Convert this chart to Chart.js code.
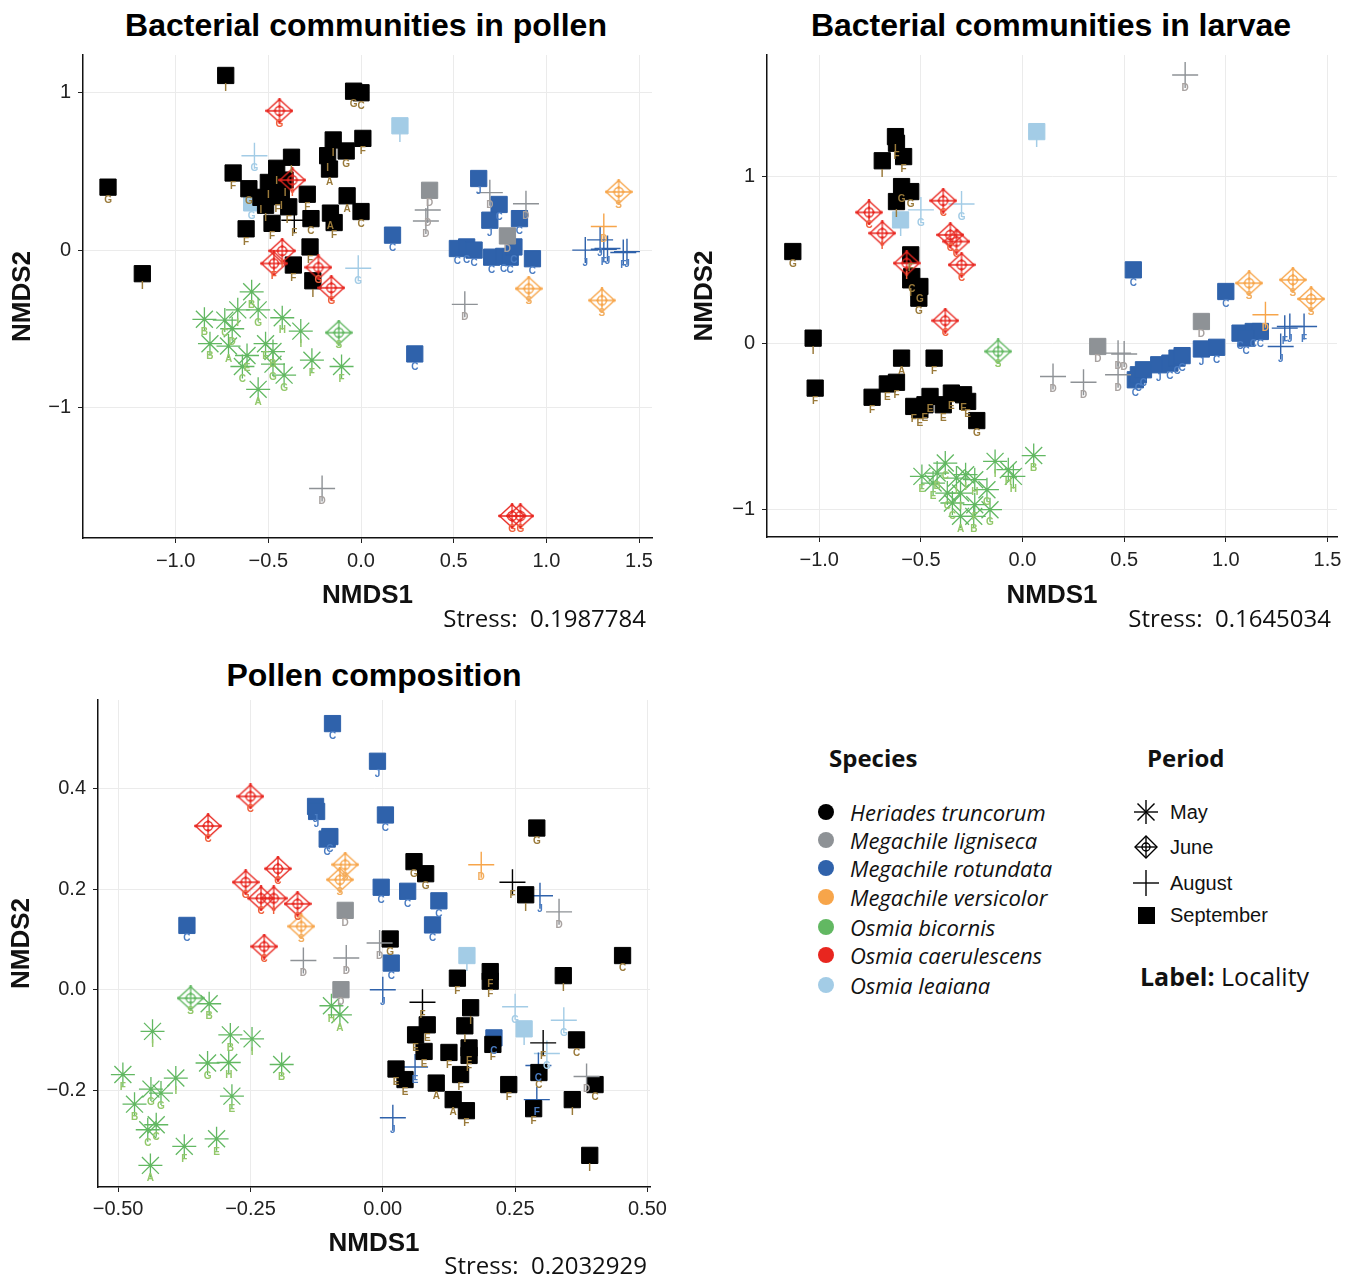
<!DOCTYPE html>
<html>
<head>
<meta charset="utf-8">
<script src="https://cdn.jsdelivr.net/npm/chart.js@4.4.1/dist/chart.umd.min.js"></script>
<style>
  body { margin: 0; background: #fff; }
  #page { position: relative; width: 1353px; height: 1276px; overflow: hidden; background: #fff; }
  canvas { position: absolute; }
  .ttl { position: absolute; width: 700px; text-align: center; font: bold 32px "Liberation Sans", Arial, sans-serif; line-height: 36px; color: #000; }
  .stress { position: absolute; width: 300px; text-align: right; font: 24px "Open Sans", sans-serif; line-height: 30px; color: #111; white-space: pre; }
  .hdr { position: absolute; font: bold 24px "Open Sans", sans-serif; line-height: 30px; color: #111; }
  .sp { position: absolute; left: 850px; font: italic 22px "Open Sans", sans-serif; line-height: 28px; color: #111; white-space: nowrap; }
  .pr { position: absolute; left: 1170px; font: 20px "Liberation Sans", Arial, sans-serif; line-height: 26px; color: #111; }
  .sym { position: absolute; }
</style>
</head>
<body>
<div id="page">
  <div class="ttl" style="left:16px; top:7px;">Bacterial communities in pollen</div>
  <div class="ttl" style="left:701px; top:7px;">Bacterial communities in larvae</div>
  <div class="ttl" style="left:24px; top:657px;">Pollen composition</div>

  <canvas id="c1" width="672" height="640" style="left:0; top:0;"></canvas>
  <canvas id="c2" width="673" height="640" style="left:680px; top:0;"></canvas>
  <canvas id="c3" width="672" height="626" style="left:0; top:650px;"></canvas>

  <div class="stress" style="left:346px; top:603px;">Stress:  0.1987784</div>
  <div class="stress" style="left:1031px; top:603px;">Stress:  0.1645034</div>
  <div class="stress" style="left:347px; top:1250px;">Stress:  0.2032929</div>

  <div id="legend"></div>
</div>

<script>
// ---- axis ticks ----
const bigTicks = [-1, -0.5, 0, 0.5, 1, 1.5];
const bigTickLabels = ['\u22121.0', '\u22120.5', '0.0', '0.5', '1.0', '1.5'];
const unitTicks = [-1, 0, 1];
const unitTickLabels = ['\u22121', '0', '1'];
const compXTicks = [-0.5, -0.25, 0, 0.25, 0.5];
const compXLabels = ['\u22120.50', '\u22120.25', '0.00', '0.25', '0.50'];
const compYTicks = [-0.2, 0, 0.2, 0.4];
const compYLabels = ['\u22120.2', '0.0', '0.2', '0.4'];

// ---- legend ----
const speciesNames = ['Heriades truncorum', 'Megachile ligniseca', 'Megachile rotundata', 'Megachile versicolor', 'Osmia bicornis', 'Osmia caerulescens', 'Osmia leaiana'];
const speciesColors = ['#000000', '#8e9296', '#2f62ab', '#f7a54a', '#62b862', '#e8261f', '#a3cce6'];
const labelColors = ['#9a7a3a', '#a8a2a0', '#4a7cc2', '#f2ae60', '#93c86a', '#f0603c', '#a3cce6'];
const periodNames = ['May', 'June', 'August', 'September'];

// ---- data: [NMDS1, NMDS2, locality] ----
// Bacterial communities in pollen
const p1HerSep = [[-0.73, 1.11, 'I'], [-0.04, 1.01, 'G'], [0.00, 1.00, 'C'], [-1.365, 0.40, 'G'], [-1.18, -0.15, 'I'],
  [-0.15, 0.70, 'I'], [0.01, 0.71, 'F'], [-0.18, 0.60, 'I'], [-0.08, 0.63, 'G'], [-0.375, 0.59, 'I'], [-0.17, 0.515, 'A'],
  [-0.455, 0.52, 'I'], [-0.69, 0.49, 'F'], [-0.605, 0.39, 'G'], [-0.50, 0.43, 'I'], [-0.43, 0.36, 'I'], [-0.29, 0.355, 'F'],
  [-0.075, 0.345, 'A'], [0.00, 0.245, 'C'], [-0.39, 0.275, 'F'], [-0.515, 0.285, 'I'], [-0.48, 0.17, 'F'], [-0.62, 0.135, 'F'],
  [-0.27, 0.20, 'C'], [-0.165, 0.235, 'A'], [-0.145, 0.175, 'F'], [-0.275, 0.02, 'F'], [-0.365, -0.095, 'F'], [-0.26, -0.195, 'I'],
  [-0.54, 0.335, 'I'], [-0.45, 0.34, 'F'], [-0.41, 0.445, 'I']];
const p1HerAug = [[-0.36, 0.19, 'F']];
const p1LigSep = [[0.37, 0.38, 'D'], [0.79, 0.09, 'D']];
const p1LigAug = [[0.36, 0.255, 'D'], [0.35, 0.185, 'D'], [0.695, 0.365, 'D'], [0.89, 0.295, 'D'], [0.56, -0.345, 'D'], [-0.21, -1.515, 'D']];
const p1RotSep = [[0.17, 0.095, 'C'], [0.635, 0.455, 'J'], [0.745, 0.29, 'C'], [0.695, 0.19, 'J'], [0.855, 0.20, 'C'], [0.52, 0.01, 'C'],
  [0.57, 0.02, 'C'], [0.61, 0.0, 'C'], [0.705, -0.045, 'C'], [0.77, -0.04, 'C'], [0.805, -0.045, 'C'], [0.825, 0.02, 'C'],
  [0.925, -0.055, 'C'], [0.29, -0.66, 'C']];
const p1RotAug = [[1.21, 0.0, 'J'], [1.29, 0.065, 'J'], [1.31, 0.005, 'F'], [1.33, 0.01, 'J'], [1.415, -0.015, 'F'], [1.435, -0.01, 'J']];
const p1VerJun = [[1.39, 0.37, 'S'], [0.905, -0.245, 'S'], [1.30, -0.32, 'S']];
const p1VerAug = [[1.31, 0.15, 'D']];
const p1BicMay = [[-0.59, -0.265, 'B'], [-0.845, -0.44, 'B'], [-0.735, -0.445, 'C'], [-0.665, -0.38, 'I'], [-0.555, -0.38, 'G'],
  [-0.695, -0.50, 'D'], [-0.425, -0.43, 'H'], [-0.325, -0.515, 'I'], [-0.815, -0.595, 'B'], [-0.715, -0.61, 'A'], [-0.615, -0.67, 'E'],
  [-0.515, -0.595, 'E'], [-0.475, -0.645, 'B'], [-0.64, -0.74, 'C'], [-0.475, -0.725, 'G'], [-0.415, -0.795, 'G'], [-0.265, -0.70, 'F'],
  [-0.105, -0.74, 'F'], [-0.555, -0.885, 'A']];
const p1BicJun = [[-0.12, -0.525, 'S']];
const p1CaeJun = [[-0.44, 0.885, 'G'], [-0.37, 0.445, 'I'], [-0.425, -0.005, 'I'], [-0.47, -0.085, 'F'], [-0.23, -0.11, 'G'],
  [-0.16, -0.24, 'G'], [0.815, -1.69, 'G'], [0.86, -1.69, 'G']];
const p1LeaSep = [[0.21, 0.79, 'I'], [-0.59, 0.30, 'G']];
const p1LeaAug = [[-0.575, 0.60, 'G'], [-0.015, -0.115, 'G']];

// Bacterial communities in larvae
const p2HerSep = [[-0.625, 1.24, 'I'], [-0.62, 1.20, 'F'], [-0.585, 1.12, 'F'], [-0.69, 1.095, 'I'], [-1.13, 0.55, 'G'],
  [-0.595, 0.94, 'G'], [-0.55, 0.91, 'G'], [-0.62, 0.85, 'I'], [-0.55, 0.53, 'F'], [-0.545, 0.40, 'C'], [-0.505, 0.34, 'G'],
  [-0.51, 0.27, 'G'], [-0.55, 0.38, 'I'], [-1.03, 0.03, 'I'], [-1.02, -0.27, 'F'], [-0.74, -0.325, 'F'], [-0.665, -0.245, 'E'],
  [-0.62, -0.235, 'F'], [-0.595, -0.09, 'A'], [-0.435, -0.09, 'F'], [-0.535, -0.38, 'F'], [-0.48, -0.37, 'E'], [-0.455, -0.32, 'E'],
  [-0.39, -0.37, 'E'], [-0.35, -0.30, 'E'], [-0.29, -0.31, 'E'], [-0.27, -0.35, 'E'], [-0.225, -0.465, 'G'], [-0.505, -0.40, 'E']];
const p2LigSep = [[0.37, -0.02, 'D'], [0.88, 0.13, 'D']];
const p2LigAug = [[0.80, 1.61, 'D'], [0.15, -0.20, 'D'], [0.30, -0.235, 'D'], [0.47, -0.06, 'D'], [0.50, -0.065, 'D'], [0.47, -0.19, 'D']];
const p2RotSep = [[0.545, 0.44, 'C'], [1.00, 0.31, 'C'], [0.555, -0.22, 'C'], [0.57, -0.19, 'C'], [0.595, -0.16, 'C'], [0.67, -0.13, 'J'],
  [0.725, -0.12, 'C'], [0.76, -0.09, 'C'], [0.785, -0.075, 'C'], [0.88, -0.035, 'J'], [0.955, -0.025, 'C'], [1.07, 0.06, 'C'],
  [1.135, 0.07, 'C'], [1.17, 0.07, 'C'], [1.10, 0.03, 'C']];
const p2RotAug = [[1.27, -0.02, 'J'], [1.29, 0.09, 'F'], [1.315, 0.10, 'J'], [1.385, 0.10, 'F']];
const p2VerJun = [[1.115, 0.36, 'S'], [1.33, 0.38, 'S'], [1.42, 0.265, 'S']];
const p2VerAug = [[1.195, 0.17, 'D']];
const p2BicMay = [[-0.495, -0.80, 'E'], [-0.42, -0.78, 'B'], [-0.38, -0.72, 'C'], [-0.325, -0.81, 'I'], [-0.28, -0.79, 'I'],
  [-0.235, -0.82, 'H'], [-0.135, -0.71, 'I'], [-0.07, -0.76, 'H'], [-0.045, -0.80, 'H'], [0.055, -0.675, 'B'], [-0.37, -0.90, 'C'],
  [-0.305, -0.90, 'I'], [-0.175, -0.88, 'G'], [-0.345, -0.96, 'C'], [-0.235, -0.97, 'F'], [-0.16, -1.00, 'G'], [-0.305, -1.04, 'A'],
  [-0.24, -1.04, 'B'], [-0.44, -0.84, 'E']];
const p2BicJun = [[-0.12, -0.05, 'S']];
const p2CaeJun = [[-0.755, 0.785, 'C'], [-0.69, 0.66, 'I'], [-0.39, 0.855, 'C'], [-0.355, 0.65, 'C'], [-0.325, 0.61, 'C'],
  [-0.30, 0.47, 'C'], [-0.57, 0.48, 'I'], [-0.38, 0.135, 'C']];
const p2LeaSep = [[0.07, 1.27, 'I'], [-0.60, 0.74, 'I']];
const p2LeaAug = [[-0.50, 0.80, 'G'], [-0.30, 0.835, 'G']];

// Pollen composition
const p3HerSep = [[0.291, 0.322, 'G'], [0.059, 0.255, 'G'], [0.081, 0.231, 'G'], [0.27, 0.189, 'I'], [0.014, 0.101, 'G'],
  [0.453, 0.068, 'C'], [0.341, 0.028, 'I'], [0.203, 0.036, 'F'], [0.203, 0.017, 'F'], [0.141, 0.023, 'F'], [0.166, -0.036, 'I'],
  [0.084, -0.07, 'E'], [0.062, -0.09, 'E'], [0.155, -0.072, 'I'], [0.078, -0.123, 'E'], [0.125, -0.125, 'F'], [0.163, -0.116, 'F'],
  [0.163, -0.131, 'F'], [0.208, -0.109, 'F'], [0.366, -0.10, 'C'], [0.025, -0.158, 'E'], [0.042, -0.179, 'E'], [0.101, -0.186, 'A'],
  [0.147, -0.169, 'F'], [0.238, -0.189, 'F'], [0.295, -0.165, 'C'], [0.133, -0.219, 'A'], [0.158, -0.241, 'F'], [0.285, -0.237, 'F'],
  [0.358, -0.219, 'I'], [0.401, -0.189, 'C'], [0.391, -0.33, 'I']];
const p3HerAug = [[0.245, 0.214, 'F'], [0.075, -0.025, 'F'], [0.303, -0.106, 'F']];
const p3LigSep = [[-0.071, 0.158, 'D'], [-0.079, 0.0, 'D']];
const p3LigAug = [[-0.15, 0.058, 'D'], [-0.069, 0.063, 'D'], [-0.006, 0.093, 'D'], [0.333, 0.155, 'D'], [0.385, -0.173, 'D']];
const p3RotSep = [[-0.095, 0.53, 'C'], [-0.01, 0.455, 'J'], [-0.127, 0.365, 'J'], [-0.125, 0.355, 'J'], [-0.10, 0.305, 'C'],
  [-0.105, 0.30, 'C'], [0.005, 0.348, 'C'], [-0.003, 0.204, 'C'], [-0.37, 0.128, 'C'], [0.047, 0.196, 'C'], [0.106, 0.177, 'C'],
  [0.094, 0.129, 'C'], [0.016, 0.053, 'C'], [0.21, -0.096, 'C']];
const p3RotAug = [[0.0, 0.0, 'J'], [0.019, -0.255, 'J'], [0.061, -0.154, 'E'], [0.297, 0.187, 'J'], [0.294, -0.151, 'C'], [0.291, -0.219, 'F']];
const p3VerJun = [[-0.071, 0.249, 'S'], [-0.081, 0.219, 'S'], [-0.154, 0.126, 'S']];
const p3VerAug = [[0.186, 0.249, 'D']];
const p3BicMay = [[-0.328, -0.028, 'B'], [-0.435, -0.083, 'I'], [-0.288, -0.09, 'B'], [-0.247, -0.098, 'I'], [-0.331, -0.146, 'G'],
  [-0.291, -0.145, 'H'], [-0.191, -0.149, 'B'], [-0.391, -0.176, 'I'], [-0.491, -0.169, 'F'], [-0.438, -0.198, 'G'],
  [-0.419, -0.206, 'G'], [-0.285, -0.212, 'E'], [-0.469, -0.228, 'B'], [-0.428, -0.269, 'C'], [-0.444, -0.279, 'C'],
  [-0.375, -0.312, 'F'], [-0.314, -0.297, 'E'], [-0.439, -0.35, 'A'], [-0.097, -0.032, 'H'], [-0.081, -0.05, 'A']];
const p3BicJun = [[-0.363, -0.017, 'S']];
const p3CaeJun = [[-0.25, 0.385, 'C'], [-0.33, 0.326, 'C'], [-0.198, 0.241, 'C'], [-0.259, 0.214, 'G'], [-0.23, 0.182, 'C'],
  [-0.206, 0.182, 'I'], [-0.161, 0.171, 'C'], [-0.224, 0.086, 'C']];
const p3LeaSep = [[0.159, 0.068, 'I'], [0.267, -0.078, 'I']];
const p3LeaAug = [[0.25, -0.034, 'G'], [0.342, -0.061, 'G'], [0.31, -0.127, 'G']];

// ---- markers ----
// June: diamond with a plus and small circle inside
function juneMarker(color) {
  const c = document.createElement('canvas');
  c.width = 28; c.height = 26;
  const g = c.getContext('2d');
  const cx = 14, cy = 13, rx = 12.5, ry = 11.5;
  g.strokeStyle = color; g.fillStyle = color; g.lineWidth = 1.3;
  g.beginPath();
  g.moveTo(cx, cy - ry); g.lineTo(cx + rx, cy); g.lineTo(cx, cy + ry); g.lineTo(cx - rx, cy); g.closePath();
  g.moveTo(cx, cy - ry); g.lineTo(cx, cy + ry);
  g.moveTo(cx - rx, cy); g.lineTo(cx + rx, cy);
  g.stroke();
  g.beginPath(); g.arc(cx, cy, 4.5, 0, Math.PI * 2); g.stroke();
  [[0, -ry], [rx, 0], [0, ry], [-rx, 0], [0, -4.5], [4.5, 0], [0, 4.5], [-4.5, 0]].forEach(([dx, dy]) => {
    g.beginPath(); g.arc(cx + dx, cy + dy, 1.4, 0, Math.PI * 2); g.fill();
  });
  return c;
}

function series(pts, sp, period) {
  const color = speciesColors[sp];
  const d = {
    data: pts.map(([x, y, l]) => ({ x, y, l })),
    labelColor: labelColors[sp],
    pointRotation: 0
  };
  if (period === 'May') {
    Object.assign(d, { pointStyle: 'star', pointRadius: 12, pointBorderWidth: 1.3, pointBorderColor: color, pointBackgroundColor: 'rgba(0,0,0,0)' });
  } else if (period === 'June') {
    Object.assign(d, { pointStyle: juneMarker(color), pointRadius: 12 });
  } else if (period === 'August') {
    Object.assign(d, { pointStyle: 'cross', pointRadius: 13, pointBorderWidth: 1.4, pointBorderColor: color, pointBackgroundColor: 'rgba(0,0,0,0)' });
  } else {
    Object.assign(d, { pointStyle: 'rect', pointRadius: 11.5, pointBorderWidth: 1, pointBorderColor: color, pointBackgroundColor: color });
  }
  return d;
}

// locality letters under each point
const localityLabels = {
  id: 'localityLabels',
  afterDatasetsDraw(chart) {
    const ctx = chart.ctx;
    ctx.save();
    ctx.font = 'bold 10px "Liberation Sans", Arial, sans-serif';
    ctx.textAlign = 'center';
    ctx.textBaseline = 'middle';
    chart.data.datasets.forEach((ds, i) => {
      const meta = chart.getDatasetMeta(i);
      ctx.fillStyle = ds.labelColor;
      meta.data.forEach((pt, j) => ctx.fillText(ds.data[j].l, pt.x, pt.y + 13));
    });
    ctx.restore();
  }
};

const tickFont = { family: '"Liberation Sans", Arial, sans-serif', size: 20 };
const axisFont = { family: '"Liberation Sans", Arial, sans-serif', size: 26, weight: 'bold' };

function buildChart(id, datasets, cfg) {
  return new Chart(document.getElementById(id), {
    type: 'scatter',
    data: { datasets },
    options: {
      responsive: false,
      animation: false,
      events: [],
      layout: { padding: cfg.pad },
      plugins: { legend: { display: false }, tooltip: { enabled: false } },
      scales: {
        x: {
          type: 'linear', min: cfg.xMin, max: cfg.xMax,
          afterBuildTicks: s => { s.ticks = cfg.xTicks.map(v => ({ value: v })); },
          afterFit: s => { s.height = cfg.xH; },
          ticks: { padding: cfg.xTickPad, font: tickFont, color: '#222', callback: (v, i) => cfg.xLabels[i] },
          grid: { color: '#ebebeb', lineWidth: 1, tickColor: '#222', tickLength: 5 },
          border: { color: '#111', width: 1.5 },
          title: { display: true, text: 'NMDS1', font: axisFont, color: '#111', padding: { top: 0, bottom: cfg.xTitlePad } }
        },
        y: {
          type: 'linear', min: cfg.yMin, max: cfg.yMax,
          afterBuildTicks: s => { s.ticks = cfg.yTicks.map(v => ({ value: v })); },
          afterFit: s => { s.width = cfg.yW; },
          ticks: { padding: 7, font: tickFont, color: '#222', callback: (v, i) => cfg.yLabels[i] },
          grid: { color: '#ebebeb', lineWidth: 1, tickColor: '#222', tickLength: 5 },
          border: { color: '#111', width: 1.5 },
          title: { display: true, text: 'NMDS2', font: axisFont, color: '#111', padding: { top: cfg.yTitlePad, bottom: 0 } }
        }
      }
    },
    plugins: [localityLabels]
  });
}

// species index: 0 Her, 1 Lig, 2 Rot, 3 Ver, 4 Bic, 5 Cae, 6 Lea  (first dataset is drawn on top)
buildChart('c1', [
  series(p1CaeJun, 5, 'June'), series(p1BicJun, 4, 'June'), series(p1BicMay, 4, 'May'),
  series(p1VerJun, 3, 'June'), series(p1VerAug, 3, 'August'), series(p1LigSep, 1, 'September'),
  series(p1LigAug, 1, 'August'), series(p1RotAug, 2, 'August'), series(p1RotSep, 2, 'September'),
  series(p1HerAug, 0, 'August'), series(p1HerSep, 0, 'September'), series(p1LeaAug, 6, 'August'),
  series(p1LeaSep, 6, 'September')
], {
  pad: { left: 0, top: 55, right: 20, bottom: 0 },
  xMin: -1.5, xMax: 1.57, yMin: -1.83, yMax: 1.24,
  xTicks: bigTicks, xLabels: bigTickLabels, yTicks: unitTicks, yLabels: unitTickLabels,
  xH: 102, yW: 83, xTickPad: 6, xTitlePad: 29, yTitlePad: 7
});

buildChart('c2', [
  series(p2CaeJun, 5, 'June'), series(p2BicJun, 4, 'June'), series(p2BicMay, 4, 'May'),
  series(p2VerJun, 3, 'June'), series(p2VerAug, 3, 'August'), series(p2LigSep, 1, 'September'),
  series(p2LigAug, 1, 'August'), series(p2RotAug, 2, 'August'), series(p2RotSep, 2, 'September'),
  series(p2HerSep, 0, 'September'), series(p2LeaAug, 6, 'August'), series(p2LeaSep, 6, 'September')
], {
  pad: { left: 0, top: 55, right: 16, bottom: 0 },
  xMin: -1.257, xMax: 1.547, yMin: -1.164, yMax: 1.73,
  xTicks: bigTicks, xLabels: bigTickLabels, yTicks: unitTicks, yLabels: unitTickLabels,
  xH: 103, yW: 87, xTickPad: 6, xTitlePad: 29, yTitlePad: 9
});

buildChart('c3', [
  series(p3CaeJun, 5, 'June'), series(p3BicJun, 4, 'June'), series(p3BicMay, 4, 'May'),
  series(p3VerJun, 3, 'June'), series(p3VerAug, 3, 'August'), series(p3LigSep, 1, 'September'),
  series(p3LigAug, 1, 'August'), series(p3HerAug, 0, 'August'), series(p3HerSep, 0, 'September'),
  series(p3RotAug, 2, 'August'), series(p3RotSep, 2, 'September'), series(p3LeaAug, 6, 'August'),
  series(p3LeaSep, 6, 'September')
], {
  pad: { left: 0, top: 50, right: 20, bottom: 0 },
  xMin: -0.538, xMax: 0.505, yMin: -0.393, yMax: 0.577,
  xTicks: compXTicks, xLabels: compXLabels, yTicks: compYTicks, yLabels: compYLabels,
  xH: 89, yW: 98, xTickPad: 5, xTitlePad: 17, yTitlePad: 6
});

// ---- legend (HTML) ----
const legend = document.getElementById('legend');
function add(html) { legend.insertAdjacentHTML('beforeend', html); }
add('<div class="hdr" style="left:829px; top:743px;">Species</div>');
add('<div class="hdr" style="left:1147px; top:743px;">Period</div>');
const spRowY = [812, 840, 868, 897, 927, 955, 985];
speciesNames.forEach((name, i) => {
  add(`<svg class="sym" width="20" height="20" style="left:816px; top:${spRowY[i] - 10}px;"><circle cx="10" cy="10" r="8" fill="${speciesColors[i]}"/></svg>`);
  add(`<div class="sp" style="top:${spRowY[i] - 14}px;">${name}</div>`);
});
const prRowY = [812, 847, 883, 915];
const prSymbols = [
  '<line x1="1" y1="13" x2="25" y2="13"/><line x1="13" y1="1" x2="13" y2="25"/><line x1="4.5" y1="4.5" x2="21.5" y2="21.5"/><line x1="21.5" y1="4.5" x2="4.5" y2="21.5"/>',
  '<polygon points="13,2 24,13 13,24 2,13" fill="none"/><line x1="13" y1="2" x2="13" y2="24"/><line x1="2" y1="13" x2="24" y2="13"/><circle cx="13" cy="13" r="4" fill="none"/>',
  '<line x1="0" y1="13" x2="26" y2="13"/><line x1="13" y1="0" x2="13" y2="26"/>',
  '<rect x="5" y="5" width="17" height="17" fill="#000" stroke="none"/>'
];
periodNames.forEach((name, i) => {
  add(`<svg class="sym" width="26" height="26" style="left:1133px; top:${prRowY[i] - 13}px;"><g stroke="#000" stroke-width="1.4">${prSymbols[i]}</g></svg>`);
  add(`<div class="pr" style="top:${prRowY[i] - 13}px;">${name}</div>`);
});
add('<div class="hdr" style="left:1140px; top:961px; font-size:25px; white-space:pre;">Label:<span style="font-weight:normal"> Locality</span></div>');
</script>
</body>
</html>
